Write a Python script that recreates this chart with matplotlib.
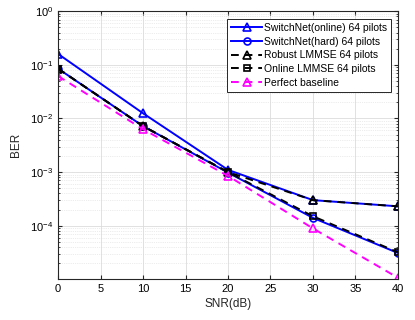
import matplotlib
matplotlib.use("Agg")
import matplotlib.pyplot as plt
from matplotlib.ticker import LogLocator, NullFormatter

plt.rcParams['font.family'] = ['Liberation Sans', 'DejaVu Sans']
plt.rcParams['mathtext.fontset'] = 'custom'
plt.rcParams['mathtext.rm'] = 'Liberation Sans'

snr = [0, 10, 20, 30, 40]
switch_online = [0.16, 0.0125, 1.1e-3, 3.0e-4, 2.3e-4]
switch_hard = [0.085, 0.0072, 9.8e-4, 1.4e-4, 3.1e-5]
robust_lmmse = [0.085, 0.0072, 1.0e-3, 3.0e-4, 2.3e-4]
online_lmmse = [0.085, 0.0072, 1.0e-3, 1.5e-4, 3.2e-5]
perfect = [0.062, 0.0063, 8.5e-4, 8.9e-5, 1.07e-5]

labels = ['SwitchNet(online) 64 pilots', 'SwitchNet(hard) 64 pilots',
          'Robust LMMSE 64 pilots', 'Online LMMSE 64 pilots', 'Perfect baseline']

fig = plt.figure(figsize=(4.15, 3.2), dpi=100)
ax = fig.add_axes([0.1398, 0.127, 0.959 - 0.1398, 0.965 - 0.127])

ms = 6
ax.semilogy(snr, switch_online, '-', color='blue', lw=1.4, marker='^', ms=ms, mfc='none', mew=1.2, label=labels[0])
ax.semilogy(snr, switch_hard, '-', color='blue', lw=1.4, marker='o', ms=ms - 1, mfc='none', mew=1.2, label=labels[1])
ax.semilogy(snr, robust_lmmse, '--', color='black', lw=1.4, marker='^', ms=ms, mfc='none', mew=1.2, label=labels[2], dashes=(4, 3))
ax.semilogy(snr, online_lmmse, '--', color='black', lw=1.4, marker='s', ms=ms - 1, mfc='none', mew=1.2, label=labels[3], dashes=(4, 3))
ax.semilogy(snr, perfect, '--', color='magenta', lw=1.4, marker='^', ms=ms, mfc='none', mew=1.2, label=labels[4], dashes=(4, 3))

ax.set_xlim(0, 40)
ax.set_ylim(1e-5, 1)
ax.set_xticks(range(0, 41, 5))
ax.set_yticks([1, 1e-1, 1e-2, 1e-3, 1e-4])
ax.set_yticklabels([r'$10^{0}$', r'$10^{-1}$', r'$10^{-2}$', r'$10^{-3}$', r'$10^{-4}$'])
ax.yaxis.set_minor_locator(LogLocator(base=10, subs=range(2, 10), numticks=20))
ax.yaxis.set_minor_formatter(NullFormatter())

ax.grid(True, which='major', color='#dcdcdc', lw=0.6)
ax.grid(True, which='minor', axis='y', color='#dadada', lw=0.5, ls=':')
ax.set_axisbelow(True)

ax.tick_params(which='both', direction='in', top=True, right=True, labelsize=8, color='#262626')
ax.tick_params(which='major', length=3)
ax.tick_params(which='minor', length=1.5)
for s in ax.spines.values():
    s.set_color('#262626')
    s.set_linewidth(0.8)

ax.set_xlabel('SNR(dB)', fontsize=8.5, color='#262626', labelpad=3)
ax.set_ylabel('BER', fontsize=8.5, color='#262626', labelpad=6)

leg = ax.legend(loc='upper right', fontsize=7.5, handlelength=3.0, handletextpad=0.2,
                borderpad=0.35, labelspacing=0.36, fancybox=False, framealpha=1,
                edgecolor='#262626', bbox_to_anchor=(0.98, 0.97), borderaxespad=0)
leg.get_frame().set_linewidth(0.7)

fig.savefig('out.png', dpi=100)
